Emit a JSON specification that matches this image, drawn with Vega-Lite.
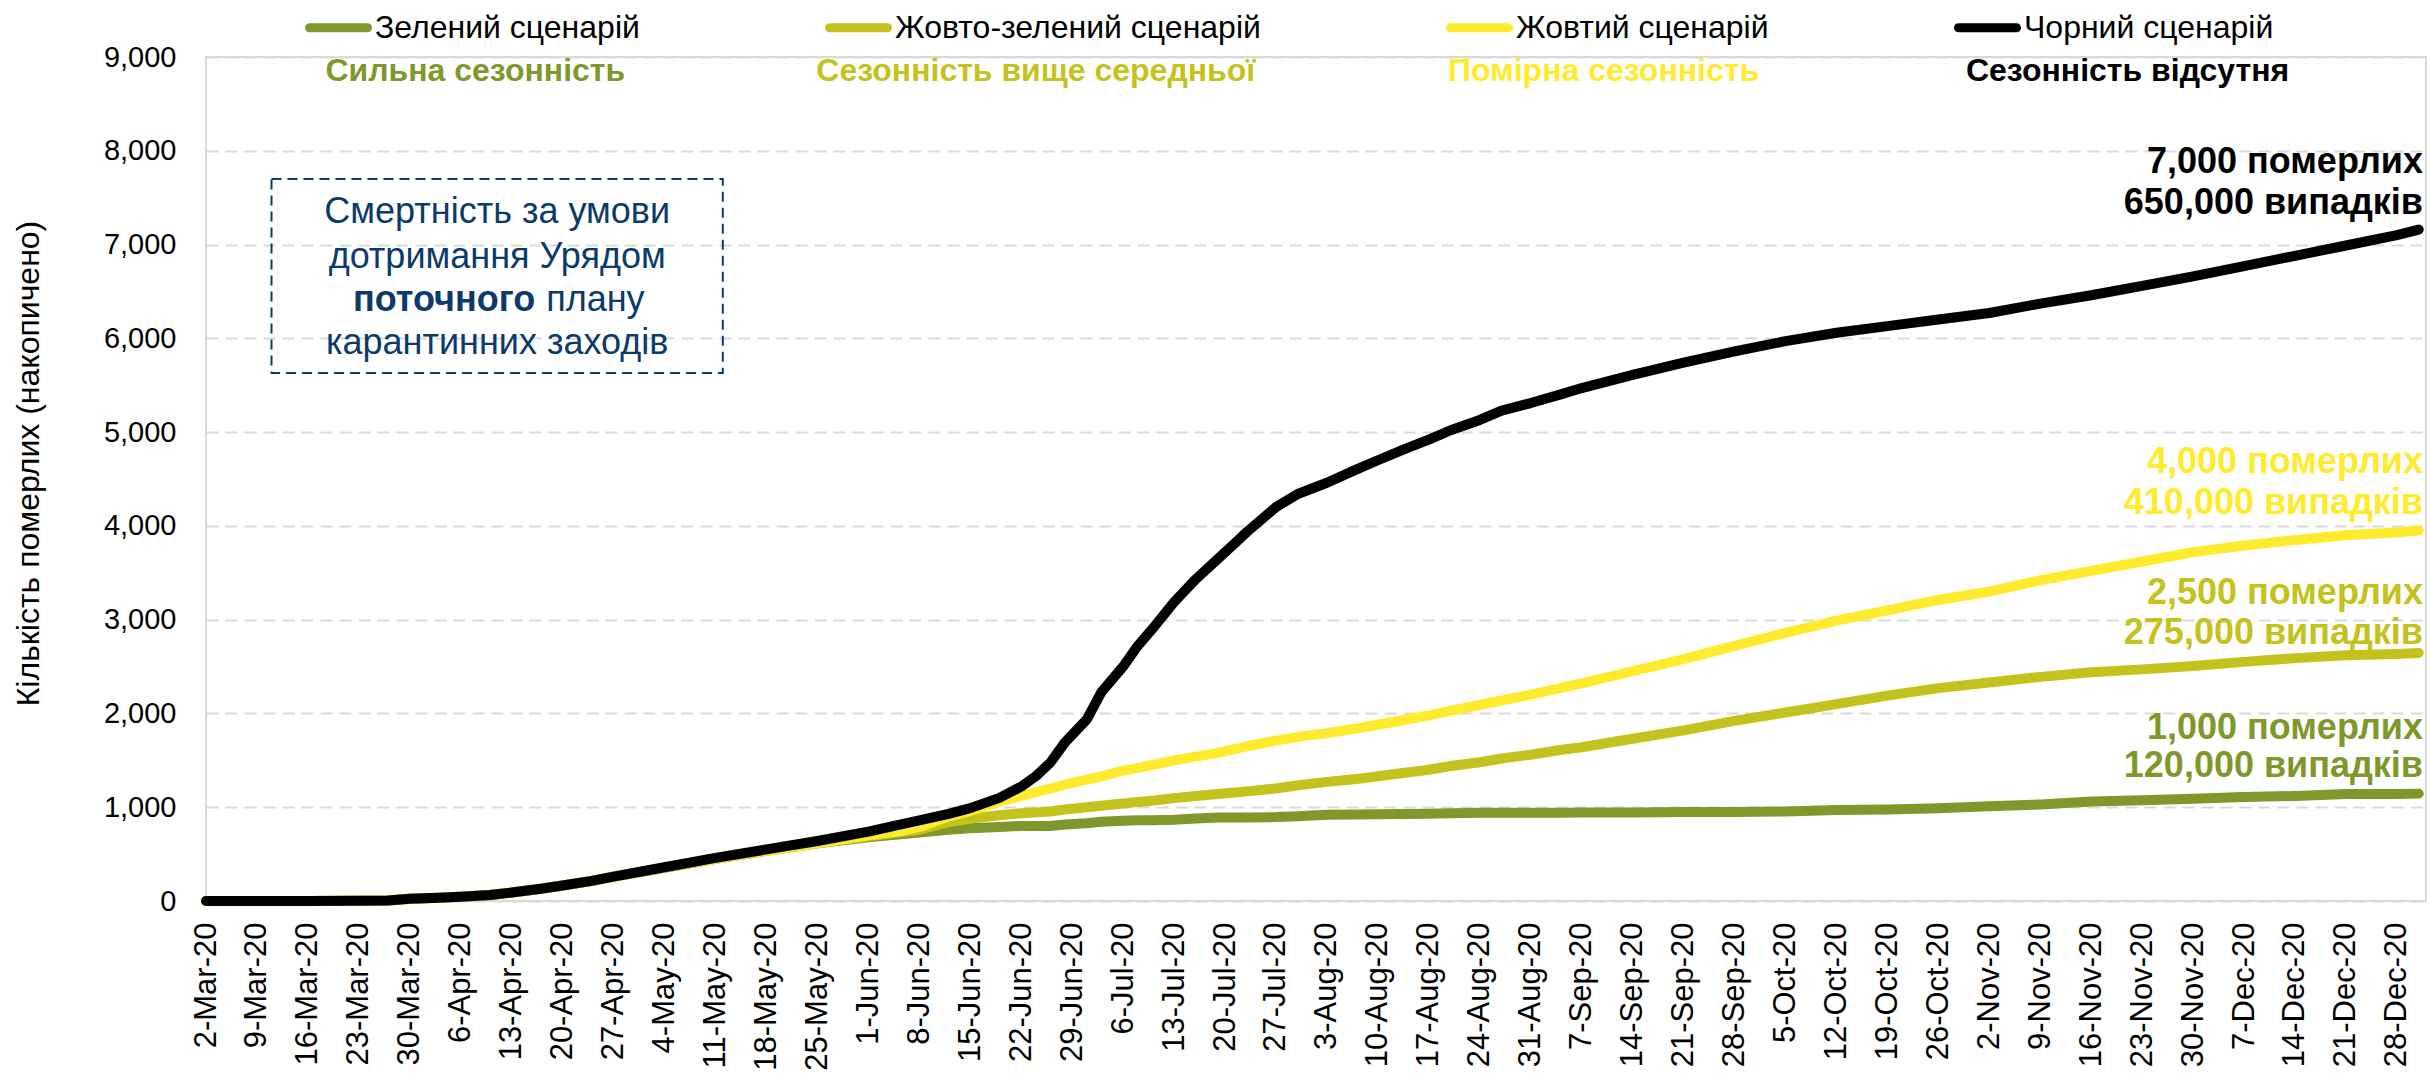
{
  "$schema": "https://vega.github.io/schema/vega-lite/v6.json",
  "width": 2220,
  "height": 844,
  "autosize": "none",
  "padding": {"left": 206, "top": 57, "right": 4, "bottom": 173},
  "background": "white",
  "config": {
    "font": "Liberation Sans",
    "view": {"stroke": "#d9d9d9", "strokeWidth": 2}
  },
  "datasets": {
    "series": [
      {"d": "2020/03/02", "g": 0, "yg": 0, "y": 0, "b": 0},
      {"d": "2020/03/09", "g": 0, "yg": 0, "y": 0, "b": 0},
      {"d": "2020/03/16", "g": 0, "yg": 0, "y": 0, "b": 0},
      {"d": "2020/03/23", "g": 2, "yg": 2, "y": 2, "b": 2},
      {"d": "2020/03/27", "g": 5, "yg": 5, "y": 5, "b": 5},
      {"d": "2020/03/30", "g": 25, "yg": 25, "y": 25, "b": 25},
      {"d": "2020/04/03", "g": 35, "yg": 35, "y": 35, "b": 35},
      {"d": "2020/04/06", "g": 45, "yg": 45, "y": 45, "b": 45},
      {"d": "2020/04/10", "g": 65, "yg": 65, "y": 65, "b": 65},
      {"d": "2020/04/13", "g": 90, "yg": 90, "y": 90, "b": 90},
      {"d": "2020/04/17", "g": 130, "yg": 130, "y": 130, "b": 130},
      {"d": "2020/04/20", "g": 165, "yg": 165, "y": 165, "b": 165},
      {"d": "2020/04/24", "g": 215, "yg": 215, "y": 215, "b": 215},
      {"d": "2020/04/27", "g": 260, "yg": 260, "y": 260, "b": 260},
      {"d": "2020/05/04", "g": 355, "yg": 355, "y": 355, "b": 360},
      {"d": "2020/05/11", "g": 450, "yg": 450, "y": 450, "b": 460},
      {"d": "2020/05/18", "g": 535, "yg": 535, "y": 535, "b": 550},
      {"d": "2020/05/25", "g": 615, "yg": 615, "y": 615, "b": 640},
      {"d": "2020/06/01", "g": 680, "yg": 690, "y": 700, "b": 740},
      {"d": "2020/06/05", "g": 710, "yg": 730, "y": 740, "b": 810},
      {"d": "2020/06/08", "g": 730, "yg": 760, "y": 790, "b": 860},
      {"d": "2020/06/12", "g": 760, "yg": 840, "y": 900, "b": 930},
      {"d": "2020/06/15", "g": 775, "yg": 880, "y": 960, "b": 990},
      {"d": "2020/06/19", "g": 790, "yg": 915, "y": 1060, "b": 1100},
      {"d": "2020/06/22", "g": 800, "yg": 935, "y": 1120, "b": 1220},
      {"d": "2020/06/24", "g": 800, "yg": 945, "y": 1160, "b": 1330},
      {"d": "2020/06/26", "g": 800, "yg": 955, "y": 1200, "b": 1475},
      {"d": "2020/06/28", "g": 815, "yg": 975, "y": 1240, "b": 1690},
      {"d": "2020/07/01", "g": 830, "yg": 1000, "y": 1293, "b": 1935},
      {"d": "2020/07/03", "g": 845, "yg": 1015, "y": 1330, "b": 2225},
      {"d": "2020/07/06", "g": 855, "yg": 1040, "y": 1390, "b": 2500},
      {"d": "2020/07/08", "g": 860, "yg": 1055, "y": 1420, "b": 2720},
      {"d": "2020/07/10", "g": 862, "yg": 1070, "y": 1450, "b": 2900},
      {"d": "2020/07/13", "g": 866, "yg": 1097, "y": 1500, "b": 3187},
      {"d": "2020/07/16", "g": 880, "yg": 1120, "y": 1540, "b": 3433},
      {"d": "2020/07/19", "g": 890, "yg": 1140, "y": 1580, "b": 3647},
      {"d": "2020/07/21", "g": 890, "yg": 1155, "y": 1615, "b": 3790},
      {"d": "2020/07/23", "g": 890, "yg": 1169, "y": 1650, "b": 3935},
      {"d": "2020/07/27", "g": 895, "yg": 1200, "y": 1710, "b": 4200},
      {"d": "2020/07/30", "g": 905, "yg": 1235, "y": 1750, "b": 4340},
      {"d": "2020/08/03", "g": 920, "yg": 1270, "y": 1790, "b": 4460},
      {"d": "2020/08/07", "g": 922, "yg": 1300, "y": 1840, "b": 4600},
      {"d": "2020/08/10", "g": 925, "yg": 1330, "y": 1880, "b": 4700},
      {"d": "2020/08/14", "g": 928, "yg": 1370, "y": 1935, "b": 4830},
      {"d": "2020/08/17", "g": 930, "yg": 1400, "y": 1980, "b": 4920},
      {"d": "2020/08/20", "g": 935, "yg": 1440, "y": 2030, "b": 5020},
      {"d": "2020/08/24", "g": 940, "yg": 1480, "y": 2090, "b": 5130},
      {"d": "2020/08/27", "g": 940, "yg": 1520, "y": 2140, "b": 5230},
      {"d": "2020/08/31", "g": 940, "yg": 1560, "y": 2200, "b": 5310},
      {"d": "2020/09/04", "g": 942, "yg": 1610, "y": 2270, "b": 5400},
      {"d": "2020/09/07", "g": 945, "yg": 1640, "y": 2320, "b": 5470},
      {"d": "2020/09/14", "g": 945, "yg": 1730, "y": 2450, "b": 5610},
      {"d": "2020/09/21", "g": 950, "yg": 1820, "y": 2580, "b": 5740},
      {"d": "2020/09/28", "g": 950, "yg": 1920, "y": 2720, "b": 5860},
      {"d": "2020/10/05", "g": 955, "yg": 2010, "y": 2860, "b": 5970},
      {"d": "2020/10/12", "g": 970, "yg": 2100, "y": 2990, "b": 6060},
      {"d": "2020/10/19", "g": 975, "yg": 2190, "y": 3100, "b": 6130},
      {"d": "2020/10/26", "g": 990, "yg": 2270, "y": 3210, "b": 6200},
      {"d": "2020/11/02", "g": 1010, "yg": 2330, "y": 3300, "b": 6270},
      {"d": "2020/11/09", "g": 1030, "yg": 2390, "y": 3420, "b": 6370},
      {"d": "2020/11/16", "g": 1060, "yg": 2440, "y": 3520, "b": 6460},
      {"d": "2020/11/23", "g": 1075, "yg": 2470, "y": 3620, "b": 6560},
      {"d": "2020/11/30", "g": 1090, "yg": 2505, "y": 3720, "b": 6660},
      {"d": "2020/12/07", "g": 1110, "yg": 2550, "y": 3790, "b": 6770},
      {"d": "2020/12/14", "g": 1120, "yg": 2590, "y": 3850, "b": 6880},
      {"d": "2020/12/21", "g": 1140, "yg": 2620, "y": 3900, "b": 6990},
      {"d": "2020/12/28", "g": 1140, "yg": 2635, "y": 3930, "b": 7100},
      {"d": "2020/12/31", "g": 1145, "yg": 2645, "y": 3950, "b": 7160}
    ],
    "subtitles": [
      {"d": "2020/04/08", "v": 8850, "s": "g", "t": "Сильна сезонність"},
      {"d": "2020/06/24", "v": 8850, "s": "yg", "t": "Сезонність вище середньої"},
      {"d": "2020/09/10", "v": 8850, "s": "y", "t": "Помірна сезонність"},
      {"d": "2020/11/21", "v": 8850, "s": "b", "t": "Сезонність відсутня"}
    ],
    "endnotes": [
      {"d": "2021/01/01", "v": 7880, "s": "b", "t": "7,000 померлих"},
      {"d": "2021/01/01", "v": 7443, "s": "b", "t": "650,000 випадків"},
      {"d": "2021/01/01", "v": 4684, "s": "y", "t": "4,000 померлих"},
      {"d": "2021/01/01", "v": 4244, "s": "y", "t": "410,000 випадків"},
      {"d": "2021/01/01", "v": 3284, "s": "yg", "t": "2,500 померлих"},
      {"d": "2021/01/01", "v": 2858, "s": "yg", "t": "275,000 випадків"},
      {"d": "2021/01/01", "v": 1845, "s": "g", "t": "1,000 померлих"},
      {"d": "2021/01/01", "v": 1440, "s": "g", "t": "120,000 випадків"}
    ],
    "boxtext": [
      {"d": "2020/04/11", "v": 7347, "t": "Смертність за умови"},
      {"d": "2020/04/11", "v": 6867, "t": "дотримання Урядом"},
      {"d": "2020/04/11", "v": 5950, "t": "карантинних заходів"}
    ],
    "boxbold": [
      {"d": "2020/04/11", "v": 6409, "t": "поточного"}
    ],
    "boxplain": [
      {"d": "2020/04/11", "v": 6409, "t": "плану"}
    ],
    "box": [
      {"d": "2020/03/11", "d2": "2020/05/12", "v": 7699, "v2": 5630}
    ]
  },
  "encoding": {
    "x": {
      "field": "d",
      "type": "temporal",
      "scale": {"domain": [{"year": 2020, "month": 3, "date": 2}, {"year": 2021, "month": 1, "date": 1}]},
      "axis": {
        "values": [
          {"year": 2020, "month": 3, "date": 2}, {"year": 2020, "month": 3, "date": 9}, {"year": 2020, "month": 3, "date": 16}, {"year": 2020, "month": 3, "date": 23}, {"year": 2020, "month": 3, "date": 30},
          {"year": 2020, "month": 4, "date": 6}, {"year": 2020, "month": 4, "date": 13}, {"year": 2020, "month": 4, "date": 20}, {"year": 2020, "month": 4, "date": 27},
          {"year": 2020, "month": 5, "date": 4}, {"year": 2020, "month": 5, "date": 11}, {"year": 2020, "month": 5, "date": 18}, {"year": 2020, "month": 5, "date": 25},
          {"year": 2020, "month": 6, "date": 1}, {"year": 2020, "month": 6, "date": 8}, {"year": 2020, "month": 6, "date": 15}, {"year": 2020, "month": 6, "date": 22}, {"year": 2020, "month": 6, "date": 29},
          {"year": 2020, "month": 7, "date": 6}, {"year": 2020, "month": 7, "date": 13}, {"year": 2020, "month": 7, "date": 20}, {"year": 2020, "month": 7, "date": 27},
          {"year": 2020, "month": 8, "date": 3}, {"year": 2020, "month": 8, "date": 10}, {"year": 2020, "month": 8, "date": 17}, {"year": 2020, "month": 8, "date": 24}, {"year": 2020, "month": 8, "date": 31},
          {"year": 2020, "month": 9, "date": 7}, {"year": 2020, "month": 9, "date": 14}, {"year": 2020, "month": 9, "date": 21}, {"year": 2020, "month": 9, "date": 28},
          {"year": 2020, "month": 10, "date": 5}, {"year": 2020, "month": 10, "date": 12}, {"year": 2020, "month": 10, "date": 19}, {"year": 2020, "month": 10, "date": 26},
          {"year": 2020, "month": 11, "date": 2}, {"year": 2020, "month": 11, "date": 9}, {"year": 2020, "month": 11, "date": 16}, {"year": 2020, "month": 11, "date": 23}, {"year": 2020, "month": 11, "date": 30},
          {"year": 2020, "month": 12, "date": 7}, {"year": 2020, "month": 12, "date": 14}, {"year": 2020, "month": 12, "date": 21}, {"year": 2020, "month": 12, "date": 28}
        ],
        "format": "%-d-%b-%y",
        "labelAngle": -90,
        "labelAlign": "right",
        "labelBaseline": "middle",
        "labelFontSize": 31,
        "labelColor": "#000000",
        "labelPadding": 21,
        "labelFlush": false,
        "labelOverlap": false,
        "ticks": false,
        "domain": false,
        "grid": false,
        "title": null
      }
    },
    "y": {
      "field": "v",
      "type": "quantitative",
      "scale": {"domain": [0, 9000], "nice": false},
      "axis": {
        "values": [0, 1000, 2000, 3000, 4000, 5000, 6000, 7000, 8000, 9000],
        "format": ",d",
        "labelFontSize": 29,
        "labelColor": "#000000",
        "labelPadding": 30,
        "ticks": false,
        "domain": false,
        "grid": true,
        "gridColor": "#d9d9d9",
        "gridDash": [12, 7],
        "gridWidth": 2,
        "title": "Кількість померлих (накопичено)",
        "titleFontSize": 32,
        "titleFontWeight": "normal",
        "titleColor": "#000000",
        "titleAngle": 270,
        "titleAlign": "center",
        "titleBaseline": "middle",
        "titleX": -178,
        "titleY": 406
      }
    }
  },
  "layer": [
    {
      "data": {"name": "series"},
      "transform": [{"fold": ["g", "yg", "y", "b"], "as": ["s", "v"]}],
      "mark": {"type": "line", "strokeWidth": 10, "strokeCap": "round", "strokeJoin": "round"},
      "encoding": {
        "color": {
          "field": "s",
          "type": "nominal",
          "scale": {"domain": ["g", "yg", "y", "b"], "range": ["#7F972B", "#C4C21C", "#FFEB2D", "#000000"]},
          "legend": {
            "orient": "none",
            "legendX": 99,
            "legendY": -63,
            "direction": "horizontal",
            "title": null,
            "symbolType": "stroke",
            "symbolSize": 3364,
            "symbolStrokeWidth": 9,
            "symbolOpacity": 1,
            "labelFontSize": 32,
            "labelColor": "#000000",
            "labelOffset": 3,
            "labelLimit": 600,
            "columnPadding": 171,
            "labelExpr": "datum.label == 'g' ? 'Зелений сценарій' : datum.label == 'yg' ? 'Жовто-зелений сценарій' : datum.label == 'y' ? 'Жовтий сценарій' : 'Чорний сценарій'",
            "encode": {"symbols": {"update": {"strokeCap": {"value": "round"}}}}
          }
        }
      }
    },
    {
      "data": {"name": "box"},
      "mark": {"type": "rect", "filled": false, "stroke": "#0B3A6B", "strokeWidth": 2, "strokeDash": [10, 6]},
      "encoding": {
        "x2": {"field": "d2"},
        "y2": {"field": "v2"}
      }
    },
    {
      "data": {"name": "boxtext"},
      "mark": {"type": "text", "fontSize": 36, "color": "#0B3A6B", "align": "center", "baseline": "middle"},
      "encoding": {
        "text": {"field": "t"}
      }
    },
    {
      "data": {"name": "boxbold"},
      "mark": {"type": "text", "fontSize": 36, "fontWeight": "bold", "color": "#0B3A6B", "align": "right", "baseline": "middle", "dx": 38},
      "encoding": {
        "text": {"field": "t"}
      }
    },
    {
      "data": {"name": "boxplain"},
      "mark": {"type": "text", "fontSize": 36, "color": "#0B3A6B", "align": "left", "baseline": "middle", "dx": 49},
      "encoding": {
        "text": {"field": "t"}
      }
    },
    {
      "data": {"name": "subtitles"},
      "mark": {"type": "text", "fontSize": 32, "fontWeight": "bold", "align": "center", "baseline": "middle"},
      "encoding": {
        "text": {"field": "t"},
        "color": {"field": "s", "type": "nominal", "legend": null}
      }
    },
    {
      "data": {"name": "endnotes"},
      "mark": {"type": "text", "fontSize": 36, "fontWeight": "bold", "align": "right", "baseline": "middle", "dx": -3},
      "encoding": {
        "text": {"field": "t"},
        "color": {"field": "s", "type": "nominal", "legend": null}
      }
    }
  ]
}
